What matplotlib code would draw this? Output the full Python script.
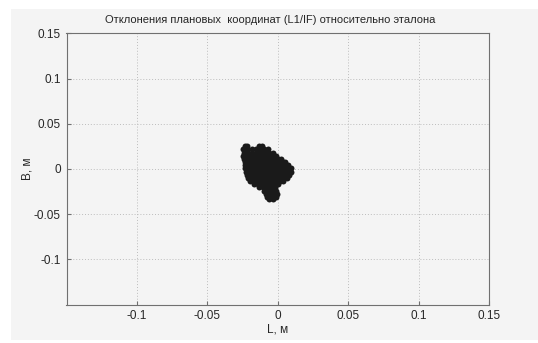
import matplotlib
matplotlib.use("Agg")
import matplotlib.pyplot as plt
from matplotlib.patches import Rectangle

# deviation cloud, grouped by rows of B (m); L values (m) for each row
rows_B = [0.025, 0.0215, 0.018, 0.0145, 0.011, 0.0075, 0.004, 0.0005,
          -0.003, -0.0065, -0.010, -0.0135, -0.017, -0.0205, -0.024,
          -0.0275, -0.031, -0.033]
rows_L = [
    [-0.0235, -0.0215, -0.0130, -0.0110],
    [-0.0245, -0.0215, -0.0185, -0.0155, -0.0125, -0.0095, -0.0070],
    [-0.0240, -0.0210, -0.0180, -0.0150, -0.0120, -0.0090, -0.0060, -0.0035],
    [-0.0245, -0.0215, -0.0185, -0.0155, -0.0125, -0.0095, -0.0065, -0.0035, -0.0010],
    [-0.0240, -0.0210, -0.0180, -0.0150, -0.0120, -0.0090, -0.0060, -0.0030, 0.0000, 0.0020],
    [-0.0235, -0.0205, -0.0175, -0.0145, -0.0115, -0.0085, -0.0055, -0.0025, 0.0005, 0.0035, 0.0055],
    [-0.0230, -0.0200, -0.0170, -0.0140, -0.0110, -0.0080, -0.0050, -0.0020, 0.0010, 0.0040, 0.0070],
    [-0.0235, -0.0205, -0.0175, -0.0145, -0.0115, -0.0085, -0.0055, -0.0025, 0.0005, 0.0035, 0.0065, 0.0095],
    [-0.0225, -0.0195, -0.0165, -0.0135, -0.0105, -0.0075, -0.0045, -0.0015, 0.0015, 0.0045, 0.0075, 0.0095],
    [-0.0220, -0.0190, -0.0160, -0.0130, -0.0100, -0.0070, -0.0040, -0.0010, 0.0020, 0.0050, 0.0080],
    [-0.0210, -0.0180, -0.0150, -0.0120, -0.0090, -0.0060, -0.0030, 0.0000, 0.0030, 0.0065],
    [-0.0195, -0.0165, -0.0135, -0.0105, -0.0075, -0.0045, -0.0015, 0.0015, 0.0040],
    [-0.0170, -0.0140, -0.0110, -0.0080, -0.0050, -0.0020, 0.0005],
    [-0.0135, -0.0105, -0.0075, -0.0045, -0.0020],
    [-0.0100, -0.0070, -0.0040, -0.0015],
    [-0.0085, -0.0060, -0.0030, -0.0005],
    [-0.0075, -0.0045, -0.0015],
    [-0.0065, -0.0035],
]

ticks = [-0.1, -0.05, 0, 0.05, 0.1, 0.15]
tick_labels = ['-0.1', '-0.05', '0', '0.05', '0.1', '0.15']

title = 'Отклонения плановых  координат (L1/IF) относительно эталона'

cloud_L = []
cloud_B = []
for b, ls in zip(rows_B, rows_L):
    for l in ls:
        cloud_L.append(l)
        cloud_B.append(b)

plt.rcParams['font.family'] = ['Liberation Sans', 'DejaVu Sans']
plt.rcParams['font.size'] = 8.5

bg = '#f4f4f4'
txt = '#262626'
edge = '#707070'

fig = plt.figure(figsize=(5.38, 3.43), dpi=100, facecolor='white')
fig.add_artist(Rectangle((11 / 538, 3 / 343), 1 - 11 / 538, 331 / 343,
                         transform=fig.transFigure, facecolor=bg,
                         edgecolor='none', zorder=-10))

ax = fig.add_axes([66.5 / 538, (343 - 304.5) / 343, 422.5 / 538, 271.2 / 343])
ax.set_facecolor(bg)

ax.plot(cloud_L, cloud_B, 'o', color='#1a1a1a', markersize=4.3,
        markeredgewidth=0, zorder=3)

ax.set_xlim(-0.15, 0.15)
ax.set_ylim(-0.15, 0.15)
ax.set_xticks(ticks)
ax.set_xticklabels(tick_labels)
ax.set_yticks(ticks)
ax.set_yticklabels(tick_labels)
ax.grid(True, linestyle=(0, (1, 2)), color='#bcbcbc', linewidth=0.7)
ax.tick_params(direction='in', length=3, color=edge, labelcolor=txt, pad=4)
for s in ax.spines.values():
    s.set_color(edge)
    s.set_linewidth(0.8)

fig.text(270 / 538, 1 - 20 / 343, title, color=txt, fontsize=8,
         ha='center', va='center')
ax.set_xlabel('L, м', color=txt, labelpad=1)
ax.set_ylabel('B, м', color=txt)
ax.yaxis.set_label_coords(-0.079, 0.5)

fig.savefig('out.png', dpi=100, facecolor='white')
